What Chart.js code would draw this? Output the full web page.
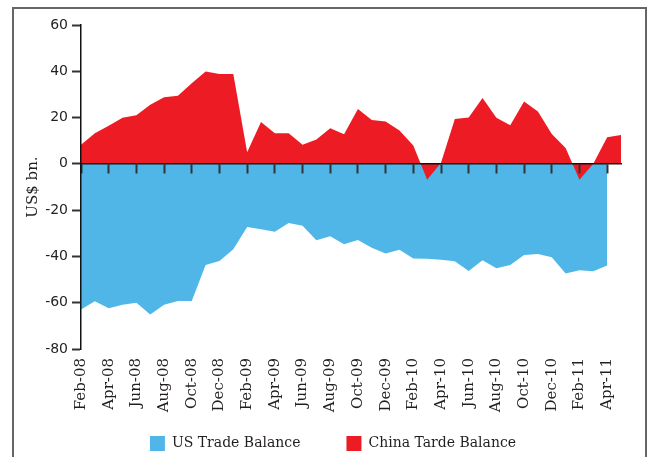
<!DOCTYPE html>
<html>
<head>
<meta charset="utf-8">
<script src="https://cdn.jsdelivr.net/npm/chart.js@4"></script>
<style>
  html, body { margin: 0; padding: 0; background: #fff; }
  #wrap { position: relative; width: 648px; height: 457px; }
  #frame { position: absolute; left: 12px; top: 7px; width: 631px; height: 460px;
           border: 2px solid #666; border-bottom: none; pointer-events: none; }
</style>
</head>
<body>
<div id="wrap">
  <canvas id="myChart" width="648" height="457"></canvas>
  <div id="frame"></div>
</div>
<script>
// monthly, Feb-08 .. May-11
const months = [
  "Feb-08", "Mar-08", "Apr-08", "May-08", "Jun-08", "Jul-08", "Aug-08", "Sep-08", "Oct-08", "Nov-08", "Dec-08",
  "Jan-09", "Feb-09", "Mar-09", "Apr-09", "May-09", "Jun-09", "Jul-09", "Aug-09", "Sep-09", "Oct-09", "Nov-09", "Dec-09",
  "Jan-10", "Feb-10", "Mar-10", "Apr-10", "May-10", "Jun-10", "Jul-10", "Aug-10", "Sep-10", "Oct-10", "Nov-10", "Dec-10",
  "Jan-11", "Feb-11", "Mar-11", "Apr-11", "May-11"
];

// US$ bn.
const usBalance = [
  -62.9, -59.4, -62.4, -60.9, -60, -65.1, -60.9, -59.3, -59.3, -43.7,
  -42, -36.9, -27.3, -28.3, -29.3, -25.6, -26.7, -33, -31.3, -34.7,
  -32.9, -36.3, -38.7, -37.1, -40.9, -41, -41.4, -42.1, -46.3, -41.6,
  -45.1, -43.7, -39.4, -38.9, -40.4, -47.4, -46, -46.4, -43.9
];
const chinaBalance = [
  8.3, 13.2, 16.5, 19.9, 21, 25.5, 28.8, 29.4, 34.8, 39.9,
  38.8, 38.8, 5.0, 18.1, 13.2, 13.2, 8.3, 10.5, 15.4, 12.8,
  23.7, 19.0, 18.3, 14.4, 7.9, -6.9, 0.5, 19.4, 20, 28.5,
  19.9, 16.7, 26.9, 22.6, 12.9, 6.8, -6.9, 0, 11.5, 12.5
];

const yMin = -80, yMax = 60, yStep = 20;

const serif = "'DejaVu Serif', serif";
const textColor = "#231f20";

const ctx = document.getElementById("myChart").getContext("2d");
const myChart = new Chart(ctx, {
  type: "line",
  data: {
    labels: months,
    datasets: [
      {
        label: "China Tarde Balance",
        data: chinaBalance,
        backgroundColor: "#ed1c24",
        borderColor: "#ed1c24",
        borderWidth: 0,
        pointRadius: 0,
        fill: "origin",
        tension: 0,
      },
      {
        label: "US Trade Balance",
        data: usBalance,
        backgroundColor: "#50b6e8",
        borderColor: "#50b6e8",
        borderWidth: 0,
        pointRadius: 0,
        fill: "origin",
        tension: 0,
      },
    ],
  },
  options: {
    responsive: false,
    animation: false,
    layout: { padding: { left: 18, right: 0, top: 25, bottom: -4 } },
    plugins: {
      legend: {
        position: "bottom",
        reverse: true,
        labels: {
          boxWidth: 15,
          boxHeight: 15,
          padding: 46,
          color: textColor,
          font: { family: serif, size: 14 },
        },
      },
      tooltip: { enabled: false },
    },
    scales: {
      // month labels hung under the plot (not clipped to a box)
      x: {
        type: "category",
        position: { y: yMin },
        offset: false,
        grid: { display: false, drawTicks: false },
        border: { display: false },
        ticks: {
          autoSkip: false,
          minRotation: 90,
          maxRotation: 90,
          padding: 9,
          color: textColor,
          font: { family: serif, size: 15 },
          callback: (v, i) => (i % 2 === 0 ? months[i] : ""),
        },
      },
      // room for the month labels above the legend
      xPad: {
        type: "category",
        position: "bottom",
        ticks: { display: false },
        grid: { display: false },
        border: { display: false },
        afterFit: (s) => { s.height = 41; },
      },
      // zero line with tick marks every two months, drawn over the areas
      x0: {
        type: "category",
        position: { y: 0 },
        offset: false,
        ticks: { display: false },
        grid: {
          z: 1,
          drawOnChartArea: false,
          tickLength: 9,
          tickWidth: 2,
          tickColor: (c) => (c.index % 2 === 0 ? "#333" : "rgba(0,0,0,0)"),
        },
        border: { z: 1, color: "#111", width: 1.5 },
      },
      y: {
        min: yMin,
        max: yMax,
        ticks: {
          stepSize: yStep,
          padding: 4,
          color: textColor,
          font: { family: "'DejaVu Sans', sans-serif", size: 14 },
        },
        grid: { z: 1, drawOnChartArea: false, tickLength: 9, tickWidth: 2, tickColor: "#333" },
        border: { z: 1, color: "#111", width: 1.5 },
        title: {
          display: true,
          text: "US$ bn.",
          color: textColor,
          font: { family: serif, size: 15 },
          padding: { top: 6 },
        },
        afterFit: (s) => { s.width = 63; },
      },
      // empty right margin so the legend sits where it does in the original
      yR: {
        position: "right",
        ticks: { display: false },
        grid: { display: false },
        border: { display: false },
        afterFit: (s) => { s.width = 26; },
      },
    },
  },
});
</script>
</body>
</html>
